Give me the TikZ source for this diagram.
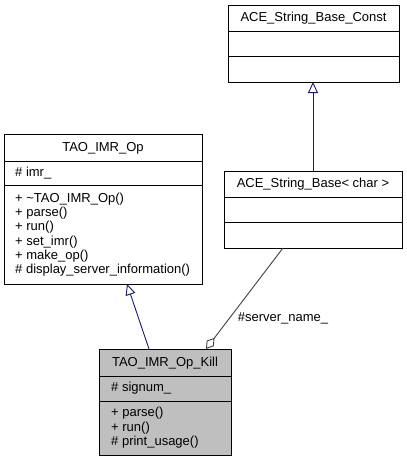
\documentclass[tikz,border=0pt]{standalone}
\usepackage{fontspec}
\setmainfont{Liberation Sans}
\usetikzlibrary{arrows.meta}
\begin{document}
\begin{tikzpicture}[x=1pt,y=-1pt,
  box/.style={draw=black,line width=0.9pt,inner sep=0pt,outer sep=0pt,anchor=north west},
  txt/.style={inner sep=0pt,font=\fontsize{13}{14}\selectfont},
  lft/.style={txt,anchor=west},
  inh/.style={draw=midnightblue,line width=0.9pt,-{Triangle[open,length=11pt,width=10pt,fill=white]}},
  agg/.style={draw=aggline,line width=0.9pt,{Diamond[open,length=14pt,width=9pt,fill=white]}-}
]
\definecolor{midnightblue}{HTML}{191970}
\definecolor{aggline}{HTML}{404040}
\definecolor{killfill}{HTML}{BFBFBF}
\useasboundingbox (0,0) rectangle (407,461);
\fill[white] (0,0) rectangle (407,461);

% ACE_String_Base_Const
\node[box,minimum width=171,minimum height=77] (const) at (228,5) {};
\draw[line width=0.9pt] (228,31) -- (399,31) (228,56) -- (399,56);
\node[txt] (constT) at (313.5,18) {ACE\_String\_Base\_Const};

% ACE_String_Base<char>
\node[box,minimum width=178,minimum height=77] (sb) at (224,171) {};
\draw[line width=0.9pt] (224,197) -- (402,197) (224,222) -- (402,222);
\node[txt] (sbT) at (313,184) {ACE\_String\_Base< char >};

% TAO_IMR_Op
\node[box,minimum width=198,minimum height=150] (op) at (4,134) {};
\draw[line width=0.9pt] (4,161) -- (202,161) (4,185) -- (202,185);
\node[txt] (opT) at (103,148) {TAO\_IMR\_Op};
\node[lft] (opA) at (15,173) {\# imr\_};
\node[lft] (opM1) at (15,199) {+ \textasciitilde TAO\_IMR\_Op()};
\node[lft] (opM2) at (15,213.3) {+ parse()};
\node[lft] (opM3) at (15,227.6) {+ run()};
\node[lft] (opM4) at (15,241.9) {+ set\_imr()};
\node[lft] (opM5) at (15,256.2) {+ make\_op()};
\node[lft] (opM6) at (15,270.5) {\# display\_server\_information()};

% TAO_IMR_Op_Kill
\node[box,fill=killfill,minimum width=132,minimum height=106] (kill) at (99,349) {};
\draw[line width=0.9pt] (99,376) -- (231,376) (99,401) -- (231,401);
\node[txt] (killT) at (165,363) {TAO\_IMR\_Op\_Kill};
\node[lft] (killA) at (111,388) {\# signum\_};
\node[lft] (killM1) at (111,413.5) {+ parse()};
\node[lft] (killM2) at (111,427.8) {+ run()};
\node[lft] (killM3) at (111,442.1) {\# print\_usage()};

% connectors
\coordinate (kInh) at (149,349);
\coordinate (opB) at (127,284);
\coordinate (kAgg) at (206,349);
\coordinate (sbB) at (283,248);
\coordinate (sbTop) at (313,171);
\coordinate (constB) at (313,82);

\draw[inh] (sbTop) -- (constB);
\draw[inh] (kInh) -- (opB);
\draw[agg] (kAgg) -- (sbB);
\node[txt] (lbl) at (283,318) {\#server\_name\_};
\end{tikzpicture}
\end{document}
